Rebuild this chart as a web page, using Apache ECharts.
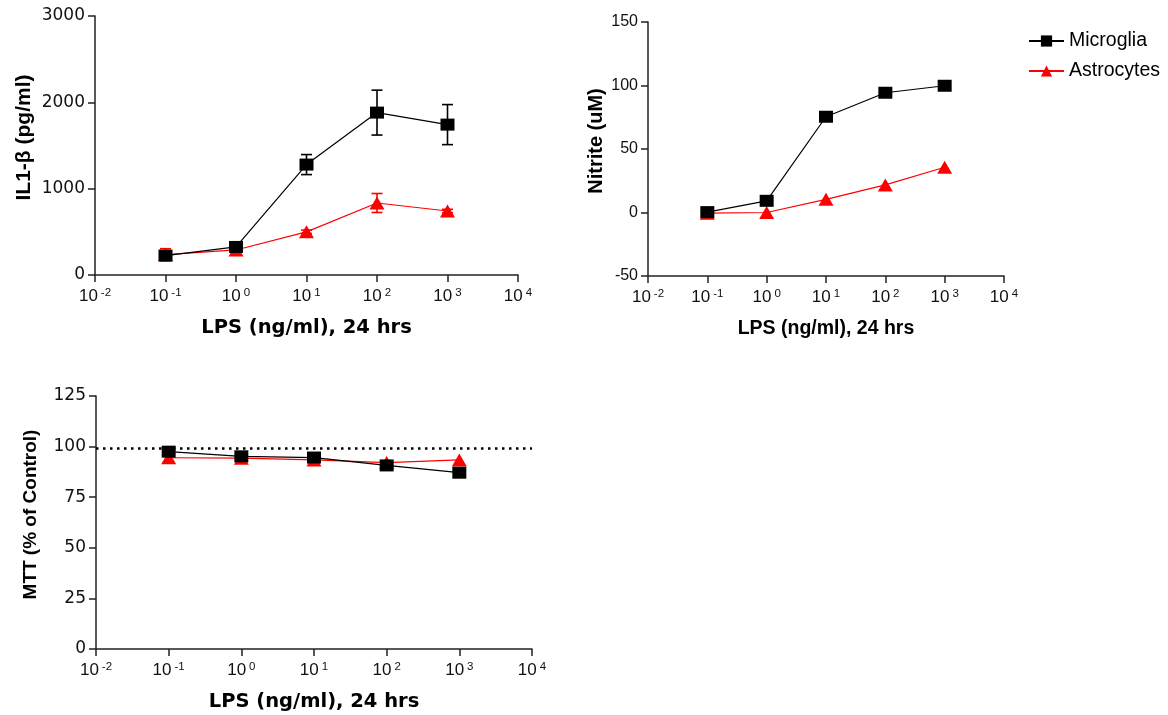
<!DOCTYPE html>
<html>
<head>
<meta charset="utf-8">
<script src="https://cdn.jsdelivr.net/npm/echarts@6/dist/echarts.min.js"></script>
<style>
  html, body { margin: 0; padding: 0; background: #fff; }
  #chart { width: 1168px; height: 715px; }
</style>
</head>
<body>
<div id="chart"></div>
<script>
// LPS doses (ng/ml)
var doses = [0.1, 1, 10, 100, 1000];

// IL1-beta (pg/ml), mean and SEM
var il1Microglia = [225, 325, 1279, 1881, 1742];
var il1MicrogliaSem = [20, 40, 116, 260, 232];
var il1Astro = [235, 290, 500, 834, 741];
var il1AstroSem = [70, 30, 20, 110, 20];

// Nitrite (uM)
var nitriteMicroglia = [0.3, 9.2, 75.4, 94.3, 99.8];
var nitriteAstro = [-0.5, 0, 10.4, 21.7, 35.6];

// MTT (% of control)
var mttMicroglia = [97.5, 95.2, 94.6, 90.7, 87.1];
var mttAstro = [94.5, 94.3, 93.4, 92.1, 93.4];
var mttControl = 99;

var ARIAL = 'Liberation Sans';
var WIDE = 'DejaVu Sans';

function pairs(ys) {
  return doses.map(function (d, i) { return [d, ys[i]]; });
}
function errPairs(ys, sem) {
  return doses.map(function (d, i) { return [d, ys[i] - sem[i], ys[i] + sem[i]]; });
}

// 10^n tick labels
function powLabel(v) {
  var e = Math.round(Math.log10(v));
  return '{b|10}{s|' + e + '}';
}

function xAxis(gi, nameFont) {
  return {
    gridIndex: gi,
    type: 'log',
    logBase: 10,
    min: 0.01,
    max: 10000,
    name: 'LPS (ng/ml), 24 hrs',
    nameLocation: 'middle',
    nameGap: 43,
    nameTextStyle: { fontFamily: nameFont, fontWeight: 'bold', fontSize: 19.5, color: '#000' },
    axisLine: { onZero: false, lineStyle: { color: '#222', width: 1.5 } },
    axisTick: { length: 7, lineStyle: { color: '#222', width: 1.5 } },
    splitLine: { show: false },
    minorTick: { show: false },
    axisLabel: {
      margin: 12,
      formatter: powLabel,
      rich: {
        b: { fontFamily: ARIAL, fontSize: 17, color: '#111', lineHeight: 19 },
        s: { fontFamily: ARIAL, fontSize: 11.5, color: '#111', verticalAlign: 'top', padding: [0, 0, 0, 3] }
      }
    }
  };
}

function yAxis(gi, name, min, max, interval, nameGap, labelFont, labelSize, nameSize) {
  return {
    gridIndex: gi,
    type: 'value',
    min: min,
    max: max,
    interval: interval,
    name: name,
    nameLocation: 'middle',
    nameGap: nameGap,
    nameRotate: 90,
    nameTextStyle: {
      fontFamily: ARIAL, fontWeight: 'bold', fontSize: nameSize, color: '#000',
      padding: [0, 0, 0, 16]
    },
    axisLine: { show: true, onZero: false, lineStyle: { color: '#222', width: 1.5 } },
    axisTick: { show: true, length: 7, lineStyle: { color: '#222', width: 1.5 } },
    splitLine: { show: false },
    axisLabel: {
      margin: 10, fontFamily: labelFont, fontSize: labelSize, color: '#111',
      formatter: function (v) { return String(v); }
    }
  };
}

function errRender(params, api) {
  var x = api.value(0);
  var lo = api.coord([x, api.value(1)]);
  var hi = api.coord([x, api.value(2)]);
  var c = api.visual('color');
  var hw = 5.5;
  var st = { stroke: c, lineWidth: 1.6 };
  return {
    type: 'group',
    children: [
      { type: 'line', shape: { x1: lo[0], y1: lo[1], x2: hi[0], y2: hi[1] }, style: st },
      { type: 'line', shape: { x1: hi[0] - hw, y1: hi[1], x2: hi[0] + hw, y2: hi[1] }, style: st },
      { type: 'line', shape: { x1: lo[0] - hw, y1: lo[1], x2: lo[0] + hw, y2: lo[1] }, style: st }
    ]
  };
}

function micro(gi, ys) {
  return {
    name: 'Microglia', type: 'line', xAxisIndex: gi, yAxisIndex: gi,
    data: pairs(ys), symbol: 'rect', symbolSize: [14, 12], z: 4,
    itemStyle: { color: '#000' }, lineStyle: { color: '#000', width: 1.2 }
  };
}
function astro(gi, ys) {
  return {
    name: 'Astrocytes', type: 'line', xAxisIndex: gi, yAxisIndex: gi,
    data: pairs(ys), symbol: 'triangle', symbolSize: [15, 13], z: 3,
    itemStyle: { color: '#ff0000' }, lineStyle: { color: '#ff0000', width: 1.2 }
  };
}
function errBars(gi, name, color, ys, sem) {
  return {
    name: name, type: 'custom', xAxisIndex: gi, yAxisIndex: gi,
    renderItem: errRender, data: errPairs(ys, sem), z: 2,
    itemStyle: { color: color }, encode: { x: 0, y: [1, 2] }, silent: true
  };
}

var mttMicroSeries = micro(2, mttMicroglia);
mttMicroSeries.markLine = {
  silent: true,
  symbol: ['none', 'none'],
  label: { show: false },
  lineStyle: { color: '#000', width: 2.5, type: [2.5, 4.5] },
  data: [{ yAxis: mttControl }]
};

var myChart = echarts.init(document.getElementById('chart'));
myChart.setOption({
  animation: false,
  backgroundColor: '#fff',
  grid: [
    { left: 95, top: 16, width: 423, height: 259 },
    { left: 648, top: 22, width: 356, height: 254 },
    { left: 96, top: 396, width: 436, height: 253 }
  ],
  legend: {
    data: ['Microglia', 'Astrocytes'],
    orient: 'vertical',
    left: 1028,
    top: 31,
    padding: 0,
    itemWidth: 35,
    itemHeight: 14,
    itemGap: 10,
    textStyle: { fontFamily: ARIAL, fontSize: 19.5, color: '#000' }
  },
  xAxis: [xAxis(0, WIDE), xAxis(1, ARIAL), xAxis(2, WIDE)],
  yAxis: [
    yAxis(0, 'IL1-β (pg/ml)', 0, 3000, 1000, 60, WIDE, 17, 21),
    yAxis(1, 'Nitrite (uM)', -50, 150, 50, 42, ARIAL, 16, 20),
    yAxis(2, 'MTT (% of Control)', 0, 125, 25, 56, WIDE, 17, 19)
  ],
  series: [
    errBars(0, 'Microglia SEM', '#000', il1Microglia, il1MicrogliaSem),
    errBars(0, 'Astrocytes SEM', '#ff0000', il1Astro, il1AstroSem),
    micro(0, il1Microglia),
    astro(0, il1Astro),
    micro(1, nitriteMicroglia),
    astro(1, nitriteAstro),
    mttMicroSeries,
    astro(2, mttAstro)
  ]
});
window.addEventListener('resize', function () {
  myChart.resize();
});
</script>
</body>
</html>
